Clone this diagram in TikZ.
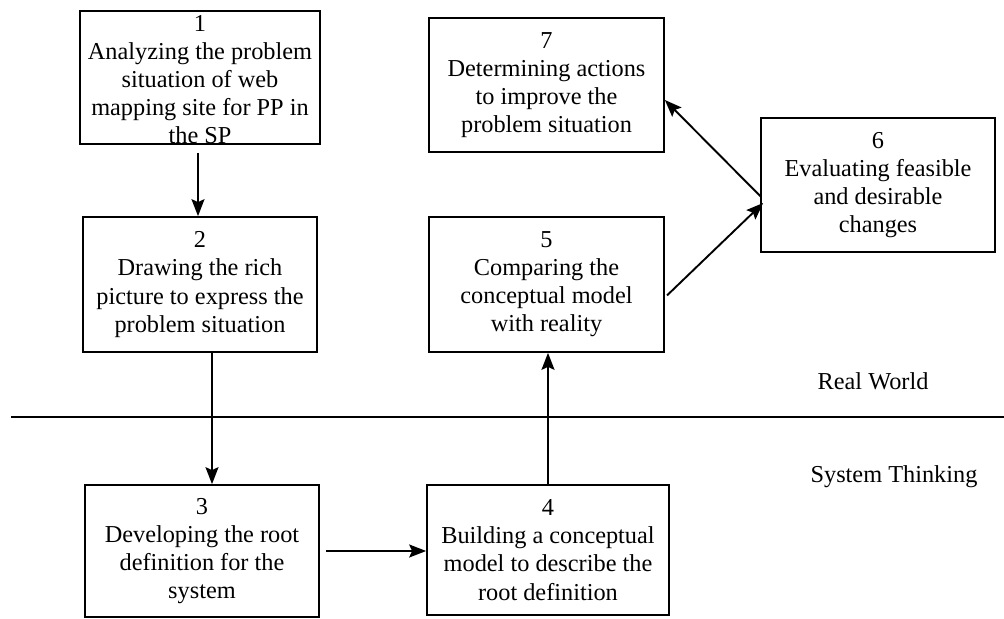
\documentclass[tikz,border=0pt]{standalone}
\usepackage{fontspec}
\setmainfont{Liberation Serif}
\usetikzlibrary{arrows.meta}
\begin{document}
\begin{tikzpicture}[x=1bp,y=-1bp,
  stagebox/.style={draw=black,line width=1.7bp,fill=white,inner sep=0pt},
  stagetext/.style={align=center,inner sep=0pt,font=\fontsize{24.4}{28.2}\selectfont},
  sidetext/.style={inner sep=0pt,font=\fontsize{24.4}{28.2}\selectfont},
  arr/.style={line width=1.9bp,-{Stealth[length=17bp,width=13bp,inset=3bp]}}]
\useasboundingbox (0,0) rectangle (1004,619);
% boxes
\node[stagebox,minimum width=240bp,minimum height=133bp] (b1) at (200,77.5) {};
\node[stagebox,minimum width=234bp,minimum height=135bp] (b2) at (200,284.5) {};
\node[stagebox,minimum width=234bp,minimum height=132bp] (b3) at (202,551) {};
\node[stagebox,minimum width=242bp,minimum height=130bp] (b4) at (548,550) {};
\node[stagebox,minimum width=235bp,minimum height=135bp] (b5) at (546.5,284.5) {};
\node[stagebox,minimum width=235bp,minimum height=134bp] (b7) at (546.5,85) {};
\node[stagebox,minimum width=234bp,minimum height=134bp] (b6) at (878,185) {};
% texts
\node[stagetext] (t1) at ([yshift=-2bp]b1.center) {1\\Analyzing the problem\\situation of web\\mapping site for PP in\\the SP};
\node[stagetext] (t2) at (b2.center) {2\\Drawing the rich\\picture to express the\\problem situation};
\node[stagetext] (t3) at (b3.center) {3\\Developing the root\\definition for the\\system};
\node[stagetext] (t4) at (b4.center) {4\\Building a conceptual\\model to describe the\\root definition};
\node[stagetext] (t5) at (b5.center) {5\\Comparing the\\conceptual model\\with reality};
\node[stagetext] (t7) at (b7.center) {7\\Determining actions\\to improve the\\problem situation};
\node[stagetext] (t6) at (b6.center) {6\\Evaluating feasible\\and desirable\\changes};
% divider
\coordinate (lineL) at (11,417);
\coordinate (lineR) at (1004,417);
\draw[line width=1.6bp] (lineL) -- (lineR);
\node[sidetext] (rw) at (873,381) {Real World};
\node[sidetext] (st) at (894,477) {System Thinking};
% connectors
\draw[arr,shorten <=8bp] ([xshift=-2bp]b1.south) -- ([xshift=-2bp]b2.north);
\draw[arr] ([xshift=12bp]b2.south) -- ([xshift=10bp]b3.north);
\draw[arr,shorten <=6bp] (b3.east) -- (b3.east -| b4.west);
\draw[arr] (b4.north) -- ([xshift=1.5bp]b5.south);
\draw[arr,shorten <=3bp] ([yshift=-13bp]b5.east) -- ([xshift=3bp,yshift=-18bp]b6.west);
\draw[arr] ([xshift=1bp,yshift=-12bp]b6.west) -- ([yshift=-15bp]b7.east);
\end{tikzpicture}
\end{document}
